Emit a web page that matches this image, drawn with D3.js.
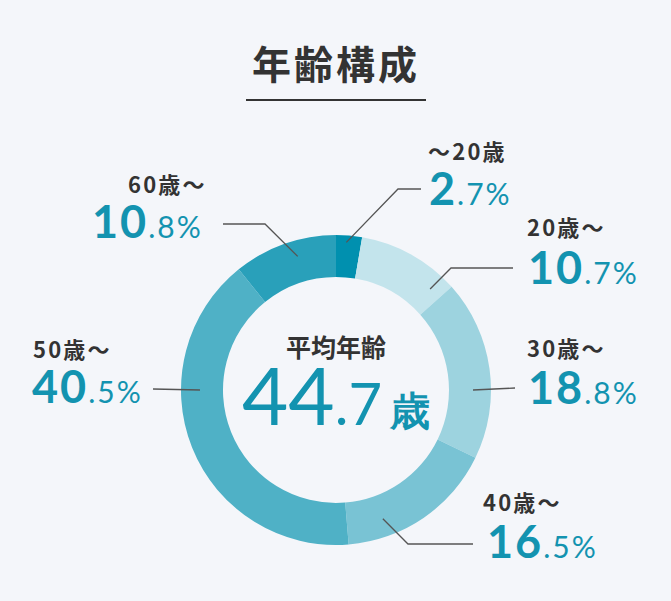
<!DOCTYPE html>
<html>
<head>
<meta charset="utf-8">
<script src="https://cdn.jsdelivr.net/npm/d3@7"></script>
<style>
  html, body { margin: 0; padding: 0; background: #f4f6fa; }
  svg { display: block; }
  .jp { font-family: "Noto Sans CJK JP", "Noto Sans", sans-serif; font-weight: 700; fill: #333; }
  .num { font-family: Lato, "Noto Sans", sans-serif; fill: #1393b0; }
</style>
</head>
<body>
<div id="chart"></div>
<script>
// data
const categories = ['～20歳', '20歳～', '30歳～', '40歳～', '50歳～', '60歳～'];
const shares = [2.7, 10.7, 18.8, 16.5, 40.5, 10.8];
const colors = ['#0090af', '#c3e4ec', '#9dd3df', '#79c3d4', '#4fb1c6', '#29a0ba'];
const title = '年齢構成';
const centerLabel = '平均年齢';
const averageAge = 44.7;

// layout
const width = 671, height = 601;
const cx = 336, cy = 390;
const outerR = 155, innerR = 113;

// leader lines + label placement (annotation layout)
const labelLayout = [
  {angle: 4, r: 148, elbow: [398, 189], end: [421, 189], tx: 428, nx: 429, cy: 160, ny: 205},
  {angle: 43, r: 138, elbow: [451, 268], end: [513, 268], tx: 527, nx: 528, cy: 236, ny: 284},
  {angle: 90, r: 137, elbow: null, end: [515, 388], tx: 527, nx: 528, cy: 357, ny: 404},
  {angle: 160, r: 137, elbow: [408, 544], end: [473, 544], tx: 483, nx: 487, cy: 511, ny: 558},
  {angle: 270, r: 136, elbow: null, end: [153, 389], tx: 33, nx: 32, cy: 358, ny: 403},
  {angle: 344, r: 139, elbow: [265, 224], end: [223, 224], tx: 128, nx: 92, cy: 193, ny: 238}
];

const svg = d3.select('#chart').append('svg')
    .attr('width', width)
    .attr('height', height);

// title
svg.append('text')
    .attr('class', 'jp')
    .attr('x', cx)
    .attr('y', 79)
    .attr('text-anchor', 'middle')
    .attr('font-size', 39)
    .attr('letter-spacing', 3)
    .text(title);

svg.append('line')
    .attr('x1', 246).attr('x2', 426)
    .attr('y1', 100).attr('y2', 100)
    .attr('stroke', '#333')
    .attr('stroke-width', 2);

// donut
const pie = d3.pie().sort(null).value((d) => d);
const arc = d3.arc().innerRadius(innerR).outerRadius(outerR);

const g = svg.append('g').attr('transform', `translate(${cx},${cy})`);

g.selectAll('path')
    .data(pie(shares))
    .enter()
    .append('path')
    .attr('d', arc)
    .attr('fill', (d, i) => colors[i]);

// leader lines
labelLayout.forEach((l) => {
  const [px, py] = d3.pointRadial(l.angle * Math.PI / 180, l.r);
  const pts = [[cx + px, cy + py]];
  if (l.elbow) pts.push(l.elbow);
  pts.push(l.end);
  svg.append('path')
      .attr('d', d3.line()(pts))
      .attr('fill', 'none')
      .attr('stroke', '#555')
      .attr('stroke-width', 1.3);
});

// labels
categories.forEach((c, i) => {
  const l = labelLayout[i];
  svg.append('text')
      .attr('class', 'jp')
      .attr('x', l.tx)
      .attr('y', l.cy)
      .attr('font-size', 22)
      .attr('letter-spacing', 2.2)
      .text(c);

  const [intPart, decPart] = shares[i].toFixed(1).split('.');
  const t = svg.append('text')
      .attr('class', 'num')
      .attr('x', l.nx)
      .attr('y', l.ny)
      .attr('letter-spacing', 2);
  t.append('tspan')
      .attr('font-size', 45)
      .attr('font-weight', 700)
      .text(intPart);
  t.append('tspan')
      .attr('font-size', 30)
      .attr('font-weight', 400)
      .text('.' + decPart + '%');
});

// center
svg.append('text')
    .attr('class', 'jp')
    .attr('x', cx)
    .attr('y', 357)
    .attr('text-anchor', 'middle')
    .attr('font-size', 25)
    .text(centerLabel);

const [ai, ad] = averageAge.toFixed(1).split('.');
const ct = svg.append('text')
    .attr('x', cx)
    .attr('y', 425)
    .attr('text-anchor', 'middle');
ct.append('tspan')
    .attr('class', 'num')
    .attr('font-size', 80)
    .attr('font-weight', 400)
    .text(ai);
ct.append('tspan')
    .attr('class', 'num')
    .attr('font-size', 58)
    .attr('font-weight', 400)
    .text('.' + ad);
ct.append('tspan')
    .attr('class', 'num')
    .attr('dx', 8)
    .attr('font-family', '"Noto Sans CJK JP", sans-serif')
    .attr('font-weight', 700)
    .attr('font-size', 40)
    .text('歳');
</script>
</body>
</html>
